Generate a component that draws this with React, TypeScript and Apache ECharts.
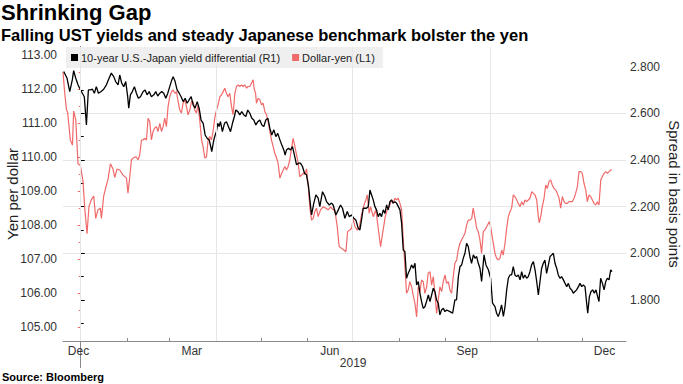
import React, { useEffect, useRef } from 'react';
import * as echarts from 'echarts';

const TITLE = 'Shrinking Gap';
const SUBTITLE = 'Falling UST yields and steady Japanese benchmark bolster the yen';
const SOURCE = 'Source: Bloomberg';
const SPREAD_NAME = '10-year U.S.-Japan yield differential (R1)';
const YEN_NAME = 'Dollar-yen (L1)';
const LEFT_AXIS_NAME = 'Yen per dollar';
const RIGHT_AXIS_NAME = 'Spread in basis points';

// x values are days since 2019-01-01
const X_MIN = -11.8;
const X_MAX = 363.3;
const monthStartDays = [0, 31, 59, 90, 120, 151, 181, 212, 243, 273, 304, 334];
const quarterStartDays = [0, 90, 181, 273];
const monthLabelDays = [-1.5, 74, 166, 257.5, 349];
const monthLabels = ['Dec', 'Mar', 'Jun', 'Sep', 'Dec'];
const yearLabelDays = [181.5];
const yearLabels = ['2019'];
const yearBoundaryDays = [0];

const yenTicks = [105, 106, 107, 108, 109, 110, 111, 112, 113];
const spreadTicks = [1.8, 2.0, 2.2, 2.4, 2.6, 2.8];
const YEN_MIN = 104.6;
const YEN_MAX = 113.23;
const SPREAD_MIN = 1.624;
const SPREAD_MAX = 2.884;

const spreadDays = [
  -11.3, -9.1, -7.3, -5.6, -4.7, -3.3, -1.8, -0.7, 1.1, 2.4, 3.8, 5.1, 6.4, 7.8, 9.1, 10.4, 11.8, 13.6, 15.3, 17.1,
  18.9, 20.4, 22, 23.3, 24.9, 26, 27.3, 28.7, 30, 31.3, 32, 33.1, 34.4, 35.8, 37.1, 38.4, 39.8, 41.6, 42.9, 44.2,
  45.6, 47.1, 48.7, 50, 51.3, 52.7, 54, 55.3, 56.7, 58, 59.3, 60.7, 61.6, 62.9, 64.2, 65.6, 66.9, 68.2, 69.6, 70.9,
  72.2, 73.6, 74.9, 76.2, 77.6, 78.9, 80.2, 81.6, 82.9, 84.2, 85.6, 86.4, 87.3, 88.7, 89.6, 90.4, 91.3, 92.2, 93.1, 94.4,
  95.8, 97.1, 98.4, 99.8, 101.1, 102.4, 103.3, 104.7, 106, 107.3, 108.7, 110, 111.3, 112.7, 114, 115.3, 116.7, 118, 119.3, 120.7,
  122, 123.3, 124.7, 126, 127.3, 128.7, 130, 131.3, 132.7, 134, 135.3, 136.2, 137.1, 138.4, 139.8, 141.1, 142.4, 143.8, 145.1, 146.4,
  147.8, 149.1, 150.4, 151.8, 152.7, 153.8, 155.3, 156.7, 158.2, 159.3, 161.1, 162.7, 163.8, 165.6, 167.1, 168.2, 170, 171.6, 173.1, 174.4,
  176, 177.6, 178.9, 180.4, 182, 183.3, 184.9, 186, 187.1, 188.2, 190.4, 191.6, 192.7, 193.8, 194.9, 196, 197.1, 198.2, 199.3, 200.4,
  201.6, 202.7, 203.8, 204.9, 206, 207.1, 208.2, 209.3, 210.4, 211.6, 212.7, 213.8, 214.9, 216, 217.1, 218.2, 219.3, 220.4, 221.6, 222.7,
  223.8, 224.9, 226, 227.1, 228.2, 229.3, 230.4, 231.6, 232.7, 233.8, 234.9, 236, 237.1, 238.2, 239.3, 240.4, 241.6, 242.7, 243.8, 246,
  247.8, 249.3, 250.4, 251.6, 252.7, 253.8, 254.9, 256, 257.1, 258.2, 259.3, 260.4, 261.6, 262.7, 263.8, 264.9, 266, 267.1, 268.7, 270,
  271.6, 273.1, 274.4, 276, 277.1, 278.2, 279.3, 280.4, 281.6, 282.7, 283.8, 284.9, 286, 287.1, 288.2, 289.3, 290.4, 291.6, 292.7, 293.8,
  294.9, 296, 297.1, 298.2, 299.3, 300.4, 301.6, 302.7, 303.8, 304.9, 306, 307.1, 308.2, 309.3, 310.4, 311.6, 312.7, 313.8, 314.9, 316,
  317.1, 318.2, 319.3, 320.4, 321.6, 322.7, 323.8, 324.9, 326, 327.1, 328.2, 329.3, 330.4, 331.6, 332.7, 333.8, 334.9, 336, 337.1, 337.8,
  338.9, 340, 341.1, 342.2, 343.3, 344.4, 345.3, 346.4, 347.6, 348.7, 349.8, 350.9, 352, 353.1, 354,
];
const spreadValues = [
  2.779, 2.75, 2.693, 2.743, 2.783, 2.75, 2.722, 2.707, 2.686, 2.671, 2.55, 2.7, 2.7, 2.703, 2.686, 2.714, 2.686, 2.693, 2.703, 2.722,
  2.75, 2.772, 2.757, 2.736, 2.722, 2.764, 2.729, 2.714, 2.736, 2.671, 2.622, 2.679, 2.693, 2.714, 2.686, 2.664, 2.671, 2.693, 2.7, 2.679,
  2.693, 2.671, 2.679, 2.693, 2.674, 2.686, 2.693, 2.686, 2.664, 2.686, 2.714, 2.743, 2.757, 2.736, 2.7, 2.686, 2.671, 2.65, 2.664, 2.643,
  2.657, 2.671, 2.636, 2.622, 2.65, 2.622, 2.571, 2.557, 2.507, 2.493, 2.486, 2.464, 2.436, 2.486, 2.507, 2.521, 2.557, 2.543, 2.564, 2.521,
  2.557, 2.564, 2.543, 2.521, 2.557, 2.586, 2.614, 2.607, 2.593, 2.607, 2.593, 2.586, 2.614, 2.6, 2.579, 2.571, 2.55, 2.564, 2.571, 2.55,
  2.543, 2.571, 2.579, 2.536, 2.507, 2.529, 2.5, 2.514, 2.486, 2.464, 2.443, 2.421, 2.443, 2.45, 2.443, 2.457, 2.421, 2.379, 2.386, 2.386,
  2.371, 2.343, 2.336, 2.286, 2.229, 2.164, 2.215, 2.25, 2.236, 2.2, 2.264, 2.243, 2.221, 2.207, 2.215, 2.207, 2.164, 2.186, 2.207, 2.193,
  2.15, 2.179, 2.157, 2.164, 2.15, 2.143, 2.107, 2.1, 2.143, 2.193, 2.193, 2.2, 2.271, 2.25, 2.229, 2.2, 2.186, 2.157, 2.171, 2.157,
  2.186, 2.171, 2.207, 2.186, 2.221, 2.229, 2.215, 2.221, 2.215, 2.2, 2.186, 2.129, 2.014, 2.007, 1.893, 1.914, 1.929, 1.95, 1.936, 1.957,
  1.864, 1.879, 1.829, 1.793, 1.764, 1.771, 1.793, 1.821, 1.793, 1.821, 1.85, 1.836, 1.8, 1.786, 1.736, 1.757, 1.764, 1.75, 1.757, 1.75,
  1.743, 1.8, 1.8, 1.9, 1.943, 1.95, 1.979, 2.0, 2.043, 2.029, 1.986, 1.957, 1.993, 1.979, 1.986, 1.957, 1.936, 1.879, 1.993, 1.95,
  1.929, 1.893, 1.786, 1.771, 1.743, 1.729, 1.75, 1.779, 1.729, 1.771, 1.843, 1.893, 1.907, 1.907, 1.943, 1.907, 1.9, 1.907, 1.886, 1.921,
  1.893, 1.907, 1.893, 1.9, 1.921, 1.95, 1.964, 1.929, 1.879, 1.821, 1.879, 1.936, 1.957, 1.971, 1.914, 1.95, 1.986, 1.993, 2.0, 1.957,
  1.936, 1.907, 1.893, 1.9, 1.886, 1.871, 1.857, 1.871, 1.85, 1.843, 1.829, 1.836, 1.843, 1.857, 1.871, 1.857, 1.864, 1.857, 1.786, 1.743,
  1.814, 1.836, 1.843, 1.829, 1.843, 1.814, 1.793, 1.893, 1.871, 1.843, 1.879, 1.893, 1.886, 1.929, 1.921,
];

const yenDays = [
  -11.8, -10.7, -9.5, -8.7, -6.9, -5.5, -4.7, -3.3, -1.8, -0.2, 1.5, 2.7, 4.2, 5.5, 7.1, 8.7, 10, 11.5, 13.1, 13.8,
  15.3, 16.7, 18.2, 19.8, 21.5, 22.7, 24.2, 26, 28.2, 30.5, 31.5, 32.7, 33.8, 34.9, 36.7, 38.2, 39.3, 40.5, 41.5, 42.7,
  43.8, 44.9, 46, 47.1, 48.2, 49.3, 50.5, 51.5, 52.7, 53.8, 54.9, 56, 57.1, 58.2, 59.3, 60.5, 61.5, 62.7, 63.8, 64.9,
  66, 67.1, 68.2, 69.3, 70.5, 71.5, 72.7, 73.8, 74.9, 76, 77.1, 78.2, 79.3, 80.5, 81.5, 82.7, 83.8, 84.9, 86, 87.1,
  88.2, 89.3, 90.5, 91.5, 92.7, 93.8, 94.9, 96, 97.1, 98.2, 99.3, 100.5, 101.5, 102.7, 103.8, 104.9, 106, 107.1, 108.2, 109.3,
  110.5, 111.5, 112.7, 113.8, 114.9, 115.5, 116.5, 117.1, 118.2, 119.3, 120.5, 121.5, 122.7, 123.8, 124.9, 126, 127.1, 128.2, 129.3, 130.5,
  131.5, 132.7, 133.8, 134.9, 136, 137.1, 138.2, 139.3, 140.5, 141.5, 142.7, 143.8, 144.9, 146, 147.1, 148.2, 149.3, 150.5, 151.5, 152.7,
  153.8, 154.9, 156, 157.1, 158.2, 159.8, 161.5, 163.3, 164.9, 166.5, 168.2, 169.3, 170.9, 172.2, 173.8, 175.3, 176.7, 177.8, 179.3, 180.5,
  181.5, 182.7, 184.2, 185.5, 187.1, 188.7, 190, 190.9, 192.2, 193.1, 194.9, 196.7, 198.2, 199.8, 201.5, 202.9, 204.2, 205.5, 207.1, 208.2,
  209.3, 210.5, 211.5, 212.7, 213.8, 214.9, 216, 217.1, 218.2, 219.3, 220.5, 221.5, 222.7, 223.8, 224.9, 226, 227.1, 228.2, 229.3, 230.5,
  231.5, 232.7, 233.8, 234.9, 236, 237.1, 238.2, 239.3, 240.5, 241.5, 242.7, 243.8, 244.9, 246, 247.1, 248.2, 249.3, 250.5, 251.5, 252.7,
  253.8, 254.9, 256, 257.1, 258.2, 259.3, 260.5, 261.5, 262.7, 263.8, 264.9, 266, 267.1, 268.2, 269.3, 270.5, 272.2, 273.1, 274.5, 276,
  277.1, 278.2, 279.3, 280.5, 281.5, 282.7, 283.8, 284.9, 286, 287.1, 288.2, 289.3, 290.5, 291.5, 292.7, 293.8, 294.9, 296, 297.1, 298.2,
  299.3, 300.5, 301.5, 302.7, 303.8, 304.9, 305.5, 306.5, 307.5, 308.7, 309.8, 310.9, 312, 313.1, 314.2, 315.3, 316.5, 317.5, 318.7, 319.8,
  320.9, 322, 323.1, 324.2, 325.3, 326.5, 327.5, 328.7, 329.8, 330.9, 332, 333.1, 334.2, 335.3, 336.5, 337.5, 338.7, 339.8, 340.9, 342,
  343.1, 344.2, 345.3, 346.5, 347.5, 348.7, 349.8, 350.9, 352, 353.1, 354,
];
const yenValues = [
  112.5, 111.9, 111.4, 111.3, 110.5, 110.35, 111.35, 111.1, 109.8, 109.75, 109.3, 108.5, 107.75, 108.55, 108.75, 108.85, 108.2, 108.45, 108.5, 108.2,
  108.85, 109.1, 109.35, 109.8, 109.65, 109.4, 109.65, 109.62, 109.47, 109.38, 108.94, 109.42, 109.92, 109.97, 110.01, 109.92, 110.06, 110.5, 110.5, 110.55,
  110.5, 111.14, 111.04, 110.5, 110.75, 110.85, 110.89, 110.75, 110.99, 110.75, 110.89, 111.14, 110.89, 111.48, 111.77, 111.92, 111.97, 111.87, 111.92, 111.63,
  111.38, 111.29, 111.58, 111.68, 111.48, 111.24, 111.38, 111.63, 111.63, 111.38, 111.29, 111.53, 111.09, 110.5, 110.31, 109.97, 110.01, 110.5, 110.6, 110.5,
  110.75, 111.14, 111.38, 111.53, 111.77, 111.82, 111.92, 112.02, 111.87, 111.77, 111.87, 111.48, 111.24, 111.87, 112.07, 112.12, 112.07, 112.12, 112.07, 112.12,
  112.02, 112.07, 112.07, 112.17, 112.27, 112.02, 111.87, 111.58, 111.73, 111.68, 111.53, 111.58, 111.33, 111.24, 111.04, 110.75, 110.5, 110.31, 110.11, 109.97,
  109.82, 109.38, 109.52, 109.62, 109.72, 109.62, 109.72, 109.92, 110.26, 110.55, 110.31, 110.06, 109.82, 109.42, 109.47, 109.52, 109.5, 109.65, 109.2, 108.5,
  108.15, 108.2, 108.4, 108.5, 108.25, 108.45, 108.54, 108.5, 108.45, 108.54, 108.45, 108.45, 107.96, 107.37, 107.32, 107.27, 107.22, 107.81, 107.86, 107.91,
  108.2, 107.96, 107.86, 107.91, 108.3, 108.59, 108.74, 108.89, 108.35, 108.54, 108.25, 108.45, 107.91, 107.37, 107.86, 108.25, 108.45, 108.54, 108.74, 108.64,
  108.79, 108.74, 108.79, 108.64, 108.45, 107.57, 106.78, 106.0, 106.1, 106.34, 106.19, 105.95, 105.7, 105.31, 106.19, 106.05, 106.39, 106.34, 106.0, 106.19,
  106.59, 106.63, 106.24, 106.49, 106.0, 105.41, 105.8, 106.19, 106.05, 106.34, 106.54, 106.29, 106.34, 106.1, 106.0, 106.49, 106.88, 106.98, 107.27, 107.47,
  107.57, 107.66, 107.76, 108.0, 108.15, 108.15, 108.2, 108.5, 108.2, 107.91, 107.81, 107.57, 107.17, 107.81, 107.86, 107.96, 108.1, 107.96, 107.57, 107.17,
  107.03, 106.98, 107.03, 107.27, 107.12, 107.47, 107.91, 108.25, 108.4, 108.5, 108.89, 108.84, 108.74, 108.64, 108.54, 108.69, 108.59, 108.74, 108.69, 108.74,
  108.79, 108.98, 108.94, 108.89, 108.74, 108.25, 108.07, 108.25, 108.54, 108.79, 109.18, 109.08, 109.28, 109.33, 109.18, 109.08, 109.03, 108.94, 108.79, 108.5,
  108.84, 108.69, 108.64, 108.64, 108.69, 108.69, 108.69, 108.79, 108.94, 109.13, 109.57, 109.57, 109.52, 109.23, 109.03, 108.69, 108.89, 108.84, 108.74, 108.64,
  108.59, 108.69, 108.59, 109.33, 109.42, 109.52, 109.57, 109.52, 109.57, 109.62, 109.62,
];

const RED = '#f06a6a';
const FONT = '"Liberation Sans", Arial, sans-serif';

export default function App() {
  const ref = useRef<HTMLDivElement>(null);

  useEffect(() => {
    if (!ref.current) return;
    const chart = echarts.init(ref.current, undefined, { renderer: 'svg' });

    const spreadData = spreadDays.map((d, i) => [d, spreadValues[i]]);
    const yenData = yenDays.map((d, i) => [d, yenValues[i]]);

    const xBase = {
      type: 'value',
      min: X_MIN,
      max: X_MAX,
      position: 'bottom',
      splitLine: { show: false },
    };

    chart.setOption({
      animation: false,
      backgroundColor: '#ffffff',
      textStyle: { fontFamily: FONT },
      title: {
        text: TITLE,
        subtext: SUBTITLE,
        left: 1,
        top: 1,
        padding: 0,
        itemGap: 3,
        textStyle: { fontSize: 22, fontWeight: 'bold', color: '#000', fontFamily: FONT },
        subtextStyle: { fontSize: 16.5, fontWeight: 'bold', color: '#000', fontFamily: FONT },
      },
      legend: {
        left: 66,
        top: 47,
        orient: 'horizontal',
        backgroundColor: '#efefef',
        padding: [5, 8, 5, 5],
        itemGap: 12,
        itemWidth: 7,
        itemHeight: 7,
        icon: 'rect',
        textStyle: { fontSize: 11, color: '#222', fontFamily: FONT, padding: [0, 0, 0, -2] },
        data: [SPREAD_NAME, YEN_NAME],
      },
      grid: { left: 63, right: 57, top: 47, bottom: 43, containLabel: false, outerBoundsMode: 'none' },
      xAxis: [
        {
          ...xBase,
          axisLine: { show: true, lineStyle: { color: '#8a8a8a', width: 1 } },
          axisTick: { show: true, inside: true, length: 3, customValues: monthStartDays, lineStyle: { color: '#8a8a8a' } },
          axisLabel: {
            customValues: monthLabelDays,
            margin: 4,
            fontSize: 12,
            color: '#333',
            formatter: (v: number) => {
              const i = monthLabelDays.findIndex((d) => Math.abs(d - v) < 0.01);
              return i >= 0 ? monthLabels[i] : '';
            },
          },
        },
        {
          ...xBase,
          axisLine: { show: false },
          axisTick: { show: true, inside: false, length: 27, customValues: yearBoundaryDays, lineStyle: { color: '#8a8a8a' } },
          axisLabel: {
            customValues: yearLabelDays,
            margin: 16,
            fontSize: 12,
            color: '#333',
            formatter: (v: number) => {
              const i = yearLabelDays.findIndex((d) => Math.abs(d - v) < 0.01);
              return i >= 0 ? yearLabels[i] : '';
            },
          },
        },
      ],
      yAxis: [
        {
          type: 'value',
          position: 'left',
          min: YEN_MIN,
          max: YEN_MAX,
          minInterval: 1,
          maxInterval: 1,
          axisLine: { show: true, lineStyle: { color: '#f29a9a', width: 1 } },
          axisTick: { show: true, inside: false, length: 3, customValues: yenTicks, lineStyle: { color: RED } },
          minorTick: { show: true, splitNumber: 2, length: 2, lineStyle: { color: RED } },
          axisLabel: {
            customValues: yenTicks,
            margin: 6,
            fontSize: 12,
            color: '#333',
            formatter: (v: number) => v.toFixed(2),
          },
          splitLine: { show: false },
          name: LEFT_AXIS_NAME,
          nameLocation: 'middle',
          nameRotate: 90,
          nameGap: 43,
          nameMoveOverlap: false,
          nameTextStyle: { fontSize: 15, color: '#222', fontFamily: FONT },
        },
        {
          type: 'value',
          position: 'right',
          min: SPREAD_MIN,
          max: SPREAD_MAX,
          minInterval: 0.2,
          maxInterval: 0.2,
          axisLine: { show: true, lineStyle: { color: '#000', width: 1 } },
          axisTick: { show: true, inside: false, length: 4, customValues: spreadTicks, lineStyle: { color: '#000' } },
          minorTick: { show: true, splitNumber: 2, length: 3, lineStyle: { color: '#000' } },
          axisLabel: {
            customValues: spreadTicks,
            margin: 4,
            fontSize: 12,
            color: '#333',
            formatter: (v: number) => v.toFixed(3),
          },
          splitLine: { show: true, showMinLine: false, showMaxLine: false, lineStyle: { color: '#e6e6e6', width: 1 } },
          name: RIGHT_AXIS_NAME,
          nameLocation: 'middle',
          nameRotate: -90,
          nameGap: 41,
          nameMoveOverlap: false,
          nameTextStyle: { fontSize: 15, color: '#222', fontFamily: FONT },
        },
      ],
      series: [
        {
          name: 'gridlines',
          type: 'line',
          xAxisIndex: 0,
          yAxisIndex: 0,
          data: [],
          z: 1,
          silent: true,
          markLine: {
            silent: true,
            symbol: 'none',
            label: { show: false },
            lineStyle: { color: '#e6e6e6', width: 1, type: 'solid' },
            data: quarterStartDays.map((d) => ({ xAxis: d })),
          },
        },
        {
          name: YEN_NAME,
          type: 'line',
          xAxisIndex: 0,
          yAxisIndex: 0,
          data: yenData,
          showSymbol: false,
          symbol: 'none',
          lineStyle: { color: RED, width: 1.2 },
          itemStyle: { color: RED },
          z: 2,
        },
        {
          name: SPREAD_NAME,
          type: 'line',
          xAxisIndex: 0,
          yAxisIndex: 1,
          data: spreadData,
          showSymbol: false,
          symbol: 'none',
          lineStyle: { color: '#000', width: 1.3 },
          itemStyle: { color: '#000' },
          z: 3,
        },
      ],
      graphic: [
        {
          type: 'text',
          left: 2,
          top: 371,
          style: { text: SOURCE, fontSize: 11, fontWeight: 'bold', fill: '#000', fontFamily: FONT },
        },
      ],
    });

    return () => chart.dispose();
  }, []);

  return <div ref={ref} style={{ position: 'fixed', left: 0, top: 0, width: 683, height: 384 }} />;
}
